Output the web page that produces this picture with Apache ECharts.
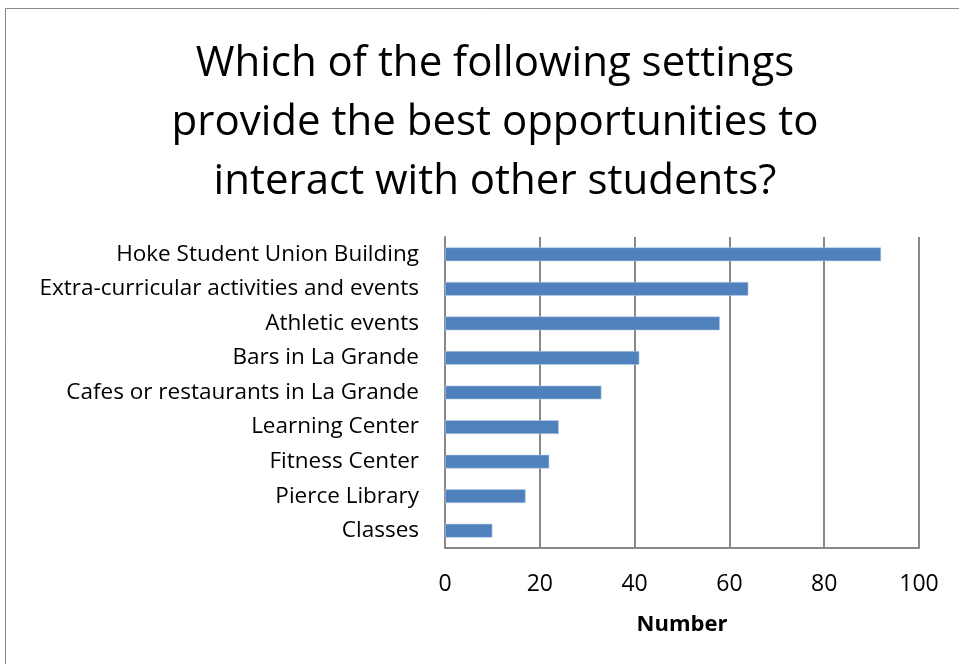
<!DOCTYPE html>
<html>
<head>
<meta charset="utf-8">
<script src="https://cdn.jsdelivr.net/npm/echarts@6/dist/echarts.min.js"></script>
<style>
  html, body { margin: 0; padding: 0; background: #fff; }
  #chart { width: 959px; height: 664px; }
</style>
</head>
<body>
<div id="chart"></div>
<script>
// Survey responses: settings that offer the best chances to meet other students
const categories = [
  'Hoke Student Union Building',
  'Extra-curricular activities and events',
  'Athletic events',
  'Bars in La Grande',
  'Cafes or restaurants in La Grande',
  'Learning Center',
  'Fitness Center',
  'Pierce Library',
  'Classes'
];
const counts = [92, 64, 58, 41, 33, 24, 22, 17, 10];
const xTicks = [0, 20, 40, 60, 80, 100];

const titleLines = [
  'Which of the following settings',
  'provide the best opportunities to',
  'interact with other students?'
];

const FONT = 'Open Sans';
const chart = echarts.init(document.getElementById('chart'), null, { renderer: 'canvas' });

chart.setOption({
  backgroundColor: '#ffffff',
  animation: false,
  textStyle: { fontFamily: FONT },
  graphic: [{
    type: 'rect',
    shape: { x: 5.5, y: 8.5, width: 1000, height: 700 },
    style: { fill: 'none', stroke: '#888888', lineWidth: 1 },
    silent: true
  }],
  title: {
    text: titleLines.join('\n'),
    left: 490,
    top: 30,
    textAlign: 'center',
    textStyle: {
      fontFamily: FONT,
      fontSize: 42,
      fontWeight: 'normal',
      color: '#000',
      lineHeight: 59
    }
  },
  grid: { left: 445, right: 40, top: 237, bottom: 116, containLabel: false },
  xAxis: {
    type: 'value',
    min: xTicks[0],
    max: xTicks[xTicks.length - 1],
    interval: xTicks[1] - xTicks[0],
    name: 'Number',
    nameLocation: 'middle',
    nameGap: 66,
    nameTextStyle: { fontFamily: FONT, fontSize: 22, fontWeight: 'bold', color: '#000' },
    axisLine: { show: true, lineStyle: { color: '#888888', width: 2 } },
    axisTick: { show: false },
    axisLabel: { fontFamily: FONT, fontSize: 23, color: '#000', margin: 25 },
    splitLine: { show: true, lineStyle: { color: '#888888', width: 2 } }
  },
  yAxis: {
    type: 'category',
    data: categories,
    inverse: true,
    axisLine: { show: true, lineStyle: { color: '#888888', width: 2 } },
    axisTick: { show: false },
    axisLabel: { fontFamily: FONT, fontSize: 22.5, color: '#000', margin: 26 }
  },
  series: [{
    type: 'bar',
    data: counts,
    barWidth: '40%',
    itemStyle: { color: '#4F81BD', borderColor: '#B9CDE5', borderWidth: 0.6 }
  }]
});
</script>
</body>
</html>
